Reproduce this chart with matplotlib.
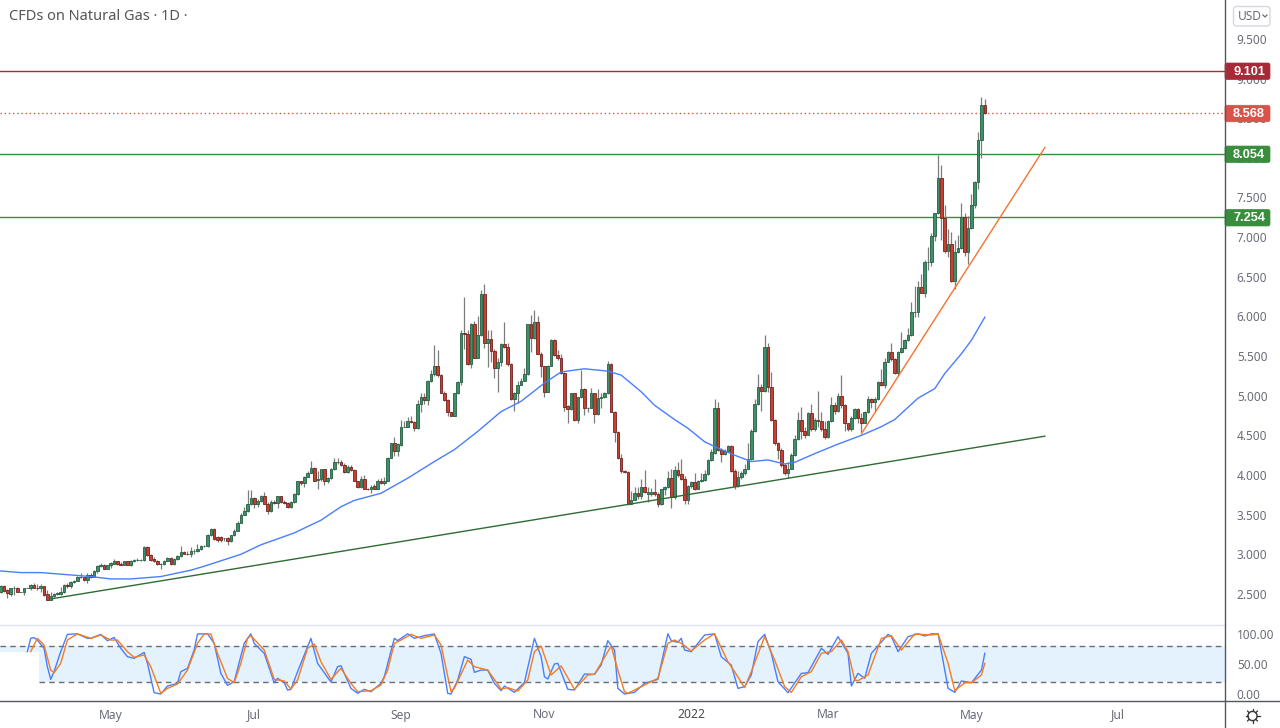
import math
import matplotlib
matplotlib.use("Agg")
import matplotlib.pyplot as plt
from matplotlib.patches import Circle, FancyBboxPatch

# daily candles, oldest first
opens = [
    2.53,2.60,2.55,2.50,2.57,2.58,2.52,2.52,2.58,2.58,
    2.61,2.58,2.57,2.60,2.50,2.43,2.48,2.50,2.50,2.53,
    2.61,2.60,2.65,2.67,2.72,2.71,2.68,2.74,2.71,2.79,
    2.85,2.87,2.82,2.86,2.88,2.91,2.88,2.87,2.91,2.87,
    2.91,2.93,2.93,2.93,3.09,2.99,2.94,2.92,2.88,2.88,
    2.92,2.95,2.88,2.94,2.98,3.03,3.01,3.00,3.04,3.04,
    3.07,3.10,3.10,3.24,3.32,3.22,3.22,3.20,3.20,3.17,
    3.24,3.30,3.40,3.50,3.55,3.63,3.71,3.63,3.67,3.74,
    3.64,3.55,3.66,3.65,3.73,3.66,3.65,3.60,3.66,3.76,
    3.92,3.90,3.98,4.03,4.09,3.94,
    3.95,4.07,3.92,3.96,4.07,4.16,4.16,4.13,4.04,4.10,
    4.06,3.92,3.85,3.95,3.83,3.82,3.86,3.83,3.93,3.90,
    3.93,4.22,4.40,4.30,4.38,4.61,4.61,4.68,4.67,4.59,
    4.90,4.99,4.94,5.18,5.27,5.38,5.26,5.04,4.94,4.79,
    4.75,5.03,5.17,5.79,5.78,5.40,5.91,5.48,5.76,6.28,
    5.67,5.71,5.56,5.35,5.42,5.65,5.61,5.40,4.96,5.04,
    5.14,5.19,5.27,5.90,5.73,5.93,5.53,5.37,5.05,5.38,
    5.70,5.51,5.48,5.29,4.87,4.83,5.03,4.70,4.98,5.09,
    4.84,4.85,5.03,4.77,4.97,4.98,5.03,5.40,4.80,4.54,
    4.21,4.05,4.04,3.64,3.69,3.77,
    3.74,3.85,3.76,3.76,3.79,3.76,3.64,3.82,3.85,3.96,
    3.72,4.06,4.01,3.95,3.69,3.86,3.91,3.83,3.92,3.94,
    4.01,4.19,4.28,4.85,4.32,4.27,4.30,4.37,4.05,3.86,
    3.97,4.02,4.08,4.20,4.55,4.90,5.11,5.06,5.61,5.11,
    4.70,4.40,4.32,4.13,4.03,4.08,4.25,4.45,4.69,4.56,
    4.51,4.78,4.58,4.69,4.68,4.58,4.48,4.68,4.88,4.81,
    5.00,4.88,4.65,4.58,4.72,4.83,4.72,4.66,4.79,4.96,
    4.92,4.96,
    5.17,5.14,5.43,5.55,5.46,5.29,5.55,5.60,5.70,5.76,
    6.06,6.06,6.37,6.30,6.68,6.68,7.02,7.30,7.75,7.24,
    6.82,6.91,6.45,6.81,6.86,7.25,6.81,7.11,7.41,7.69,
    8.22,8.67,
]
highs = [
    2.61,2.61,2.56,2.58,2.60,2.59,2.52,2.58,2.58,2.62,
    2.64,2.62,2.63,2.60,2.55,2.52,2.51,2.52,2.59,2.63,
    2.64,2.67,2.68,2.73,2.76,2.72,2.76,2.76,2.80,2.86,
    2.89,2.88,2.87,2.90,2.94,2.92,2.90,2.92,2.92,2.93,
    2.94,2.95,2.94,3.11,3.10,3.00,2.97,2.93,2.89,2.93,
    2.97,2.97,2.96,2.99,3.10,3.04,3.04,3.09,3.07,3.13,
    3.12,3.12,3.26,3.33,3.33,3.23,3.23,3.21,3.22,3.25,
    3.32,3.42,3.52,3.60,3.81,3.81,3.72,3.70,3.75,3.79,
    3.66,3.68,3.68,3.74,3.74,3.68,3.66,3.67,3.77,3.93,
    3.92,3.99,4.05,4.18,4.10,4.05,
    4.08,4.08,3.97,4.09,4.21,4.21,4.19,4.15,4.13,4.13,
    4.07,3.93,3.99,4.00,3.84,3.88,3.89,3.95,3.96,3.98,
    4.23,4.41,4.48,4.40,4.70,4.68,4.73,4.75,4.68,4.95,
    5.03,5.03,5.20,5.32,5.64,5.58,5.28,5.06,4.96,4.80,
    5.04,5.18,5.83,6.25,5.83,5.92,5.94,6.00,6.33,6.41,
    5.83,5.83,5.59,5.48,5.66,5.93,5.67,5.41,5.05,5.18,
    5.22,5.35,5.91,6.02,6.08,6.00,5.55,5.38,5.39,5.71,
    5.71,5.58,5.53,5.30,4.88,5.04,5.04,4.99,5.32,5.10,
    4.86,5.10,5.04,5.09,5.03,5.05,5.44,5.41,4.81,4.55,
    4.27,4.06,4.05,3.80,3.85,3.85,
    3.95,4.06,3.85,3.84,3.95,3.79,3.83,3.86,4.05,4.08,
    4.11,4.17,4.20,3.99,3.88,3.93,4.03,3.94,4.03,4.06,
    4.20,4.33,4.96,4.92,4.34,4.33,4.38,4.38,4.07,4.05,
    4.05,4.14,4.40,4.58,4.96,5.27,5.15,5.77,5.67,5.30,
    4.71,4.42,4.34,4.15,4.16,4.28,4.50,4.79,4.86,4.60,
    4.80,4.89,4.72,5.06,4.80,4.68,4.70,4.98,4.92,5.04,
    5.26,4.90,4.66,4.74,4.85,4.85,4.78,4.81,5.00,4.97,
    4.98,5.18,
    5.34,5.47,5.57,5.66,5.47,5.56,5.80,5.72,5.85,6.18,
    6.38,6.45,6.53,6.71,6.88,7.05,7.31,8.04,7.91,7.40,
    7.10,7.06,6.96,7.03,7.43,7.30,7.27,7.55,7.71,8.33,
    8.77,8.74,
]
lows = [
    2.51,2.53,2.45,2.48,2.49,2.52,2.52,2.49,2.58,2.55,
    2.57,2.55,2.53,2.47,2.43,2.43,2.46,2.49,2.49,2.51,
    2.58,2.58,2.64,2.66,2.70,2.66,2.64,2.70,2.71,2.77,
    2.84,2.81,2.81,2.83,2.88,2.87,2.86,2.86,2.86,2.85,
    2.90,2.92,2.92,2.92,2.98,2.92,2.90,2.87,2.82,2.87,
    2.91,2.87,2.87,2.93,2.97,3.00,2.99,2.97,3.00,3.03,
    3.06,3.09,3.09,3.23,3.18,3.15,3.16,3.17,3.12,3.16,
    3.23,3.29,3.39,3.49,3.53,3.62,3.59,3.60,3.66,3.63,
    3.51,3.53,3.63,3.59,3.65,3.63,3.59,3.59,3.65,3.75,
    3.88,3.85,3.97,4.02,3.92,3.82,
    3.93,3.88,3.90,3.95,4.06,4.14,4.12,4.03,4.02,4.05,
    3.92,3.84,3.84,3.82,3.81,3.77,3.82,3.82,3.89,3.88,
    3.92,4.21,4.24,4.24,4.37,4.60,4.60,4.66,4.55,4.58,
    4.80,4.90,4.88,5.17,5.25,5.24,5.03,4.93,4.75,4.75,
    4.74,5.02,5.14,5.59,5.39,5.35,5.47,5.48,5.75,5.60,
    5.36,5.42,5.22,5.05,5.38,5.60,5.38,4.95,4.81,4.91,
    5.13,5.18,5.26,5.55,5.72,5.52,5.24,4.99,5.05,5.37,
    5.50,5.45,5.27,4.81,4.65,4.82,4.68,4.66,4.97,4.76,
    4.80,4.84,4.65,4.76,4.84,4.97,5.02,4.79,4.42,4.20,
    4.03,4.02,3.62,3.63,3.68,3.70,
    3.70,3.77,3.66,3.74,3.74,3.60,3.62,3.75,3.84,3.59,
    3.70,3.98,3.94,3.63,3.63,3.84,3.81,3.82,3.91,3.93,
    4.00,4.18,4.27,4.30,4.16,4.25,4.29,4.04,3.82,3.85,
    3.95,4.00,4.07,4.19,4.54,4.88,4.81,5.05,5.05,4.68,
    4.38,4.20,4.10,4.00,3.96,4.07,4.24,4.44,4.45,4.47,
    4.50,4.55,4.55,4.60,4.56,4.46,4.47,4.67,4.77,4.80,
    4.85,4.55,4.55,4.55,4.71,4.65,4.54,4.65,4.78,4.85,
    4.81,4.95,
    5.12,5.10,5.42,5.44,5.28,5.25,5.54,5.59,5.69,5.75,
    5.99,5.99,6.29,6.24,6.59,6.63,6.95,7.29,6.96,6.80,
    6.75,6.44,6.35,6.80,6.85,6.76,6.66,7.10,7.37,7.61,
    8.00,8.55,
]
closes = [
    2.60,2.54,2.51,2.57,2.58,2.52,2.52,2.58,2.58,2.61,
    2.58,2.57,2.60,2.49,2.43,2.48,2.50,2.51,2.53,2.61,
    2.60,2.65,2.67,2.72,2.71,2.68,2.74,2.71,2.79,2.85,
    2.87,2.82,2.86,2.89,2.91,2.88,2.87,2.91,2.87,2.91,
    2.93,2.93,2.93,3.09,2.99,2.93,2.92,2.88,2.88,2.92,
    2.95,2.88,2.94,2.98,3.03,3.01,3.00,3.04,3.04,3.07,
    3.11,3.11,3.24,3.32,3.19,3.18,3.18,3.20,3.17,3.24,
    3.30,3.40,3.50,3.55,3.63,3.71,3.63,3.67,3.74,3.64,
    3.55,3.66,3.65,3.73,3.66,3.65,3.60,3.66,3.76,3.92,
    3.90,3.98,4.03,4.09,3.93,3.95,
    4.07,3.92,3.96,4.07,4.16,4.16,4.13,4.04,4.10,4.06,
    3.92,3.85,3.95,3.83,3.82,3.85,3.83,3.93,3.90,3.93,
    4.22,4.40,4.30,4.39,4.61,4.61,4.68,4.67,4.59,4.90,
    4.99,4.94,5.18,5.27,5.38,5.26,5.04,4.94,4.79,4.75,
    5.03,5.17,5.79,5.78,5.40,5.91,5.48,5.77,6.28,5.67,
    5.71,5.56,5.35,5.42,5.65,5.61,5.40,4.96,5.04,5.14,
    5.19,5.27,5.90,5.73,5.93,5.53,5.37,5.05,5.38,5.70,
    5.51,5.48,5.29,4.86,4.83,5.03,4.70,4.98,5.09,4.84,
    4.85,5.03,4.77,4.97,4.98,5.03,5.40,4.80,4.54,4.21,
    4.05,4.04,3.64,3.69,3.77,3.74,
    3.85,3.79,3.79,3.79,3.76,3.64,3.82,3.85,3.96,3.72,
    4.06,4.00,3.95,3.69,3.86,3.91,3.83,3.92,3.94,4.01,
    4.19,4.29,4.85,4.32,4.27,4.30,4.37,4.05,3.86,3.97,
    4.02,4.08,4.20,4.55,4.90,5.11,5.06,5.61,5.11,4.70,
    4.40,4.32,4.13,4.03,4.08,4.25,4.45,4.69,4.56,4.51,
    4.78,4.58,4.69,4.68,4.58,4.48,4.68,4.88,4.81,5.00,
    4.88,4.65,4.58,4.72,4.83,4.72,4.66,4.79,4.96,4.92,
    4.96,5.17,
    5.14,5.43,5.55,5.46,5.29,5.55,5.60,5.70,5.76,6.06,
    6.06,6.37,6.30,6.68,6.68,7.02,7.30,7.75,7.24,6.82,
    6.91,6.45,6.81,6.86,7.25,6.81,7.11,7.41,7.69,8.22,
    8.67,8.568,
]

# moving average, sampled at the bends of the line
ma_bars = [0,6,12,21,27,33,39,48,57,61,72,78,88,96,102,106,114,122,130,136,143,150,156,163,168,
           175,182,186,192,196,202,206,211,215,220,225,230,235,238,244,251,258,264,268,275,280,
           283,288,291,295]
ma_vals = [2.79,2.77,2.77,2.74,2.72,2.69,2.69,2.72,2.80,2.85,3.00,3.12,3.27,3.43,3.60,3.68,3.77,
           3.96,4.17,4.32,4.55,4.80,4.93,5.16,5.30,5.34,5.31,5.26,5.05,4.88,4.70,4.59,4.42,4.34,
           4.25,4.17,4.19,4.14,4.16,4.27,4.39,4.50,4.61,4.70,4.97,5.09,5.28,5.53,5.70,5.99]

# stochastic %K / %D
k_bars = [8,9,10,11,13,14,15,16,18,20,23,26,27,30,32,34,36,38,40,43,44,46,48,50,53,54,56,58,59,62,
          64,66,68,70,73,75,76,79,82,83,85,86,87,89,93,95,99,101,102,105,107,109,111,114,115,118,
          119,122,124,127,130,132,134,135,137,139,141,142,144,146,148,150,151,154,157,160,162,163,
          164,166,167,170,172,175,178,180,182,184,185,187,190,193,197,200,201,203,204,205,207,209,
          211,214,216,219,221,223,225,227,229,231,233,236,240,242,246,248,251,254,255,257,259,261,
          266,267,269,272,275,277,279,281,284,286,288,291,294,295]
k_vals = [70.5,92.5,93.6,89.7,76,45.7,24.7,37.4,70.5,99,100,92.5,92.5,99,88.6,94,76,62.2,59.4,69.3,
          51.2,2.7,0.5,13.7,18.1,37.4,42.9,73.2,99.7,100,84.2,34.6,14.8,20.9,84.2,100,84.2,67.7,
          19.2,26.4,19.2,7,8.2,37.4,92.5,51.2,20.3,45.7,47.3,9.8,1.6,8.2,4.3,18.1,29.1,92.5,88.6,
          100,92.5,96.9,99.7,67.7,1.6,0.5,23.6,62.2,57.8,36.3,40.1,40.1,18.1,6,13.7,3.2,19.8,92.5,
          62.2,29.1,25.3,50.1,51.2,8.2,7.1,33.5,33,48.4,88.6,73.2,9.8,0.5,3.2,18.1,24.7,100,88.6,
          85.9,92.5,73.2,70.5,84.2,98,100,62.2,48.4,9.8,12.6,31.9,87,99.1,67.7,20.9,2.7,34.6,35.7,
          76,66,95.3,67.7,13.7,34.6,26.4,67.7,99.1,95.3,70.5,95.3,100,96.4,100,100,9.8,3.2,22,
          19.2,40.1,67.7]
d_bars = [9,11,13,15,16,18,20,23,27,30,33,35,38,40,43,45,48,50,53,56,59,61,63,65,68,70,72,74,75,79,
          82,85,87,89,92,94,96,99,102,105,107,111,114,116,118,120,123,126,130,132,135,136,140,142,
          146,150,152,155,158,160,162,165,168,172,176,178,183,185,187,188,193,197,200,202,204,207,
          211,214,218,220,223,225,229,232,235,237,240,243,246,249,252,254,256,257,260,264,267,270,
          274,279,281,284,286,289,291,294,295]
d_vals = [70.5,92.5,81.5,40.1,35.7,51.2,89.7,100,92.5,98,89.7,89.7,70.5,61.1,65,45.7,1.6,9.8,17,
          40.1,84.2,99.7,99.7,67.7,26.4,19.2,51.2,92.5,96.9,73.2,24.7,22,8.7,23.6,76,83.1,53.9,
          24.7,42.9,18.1,4.3,6,15.4,40.1,84.2,89.7,99.1,92.5,98,81.5,4.3,9.8,56.7,45.7,40.1,8.7,
          11,5.4,23.6,70.5,79.8,31.9,46.8,8.2,31.9,33,79.8,40.1,4.3,1.6,15.4,26.4,84.2,89.7,84.2,
          71.6,89.7,100,53.9,37.4,11,37.4,95.3,56.7,12.6,3.2,29.1,37.4,67.7,70.5,89.7,70.5,23.6,
          22.5,31.9,92.5,96.9,73.2,99.7,98,99.7,51.2,6,19.2,19.2,31.9,51.2]

# drawn trend lines: bar, price
green_trend_bars = [15.3, 313]
green_trend_vals = [2.44, 4.49]
orange_trend_bars = [258, 313]
orange_trend_vals = [4.52, 8.13]

# horizontal levels
level_vals = [9.101, 8.054, 7.254]
level_cols = ["#a82a37", "#388e3c", "#388e3c"]
last_price = 8.568

price_ticks = [2.5, 3.0, 3.5, 4.0, 4.5, 5.0, 5.5, 6.0, 6.5, 7.0, 7.5, 8.0, 8.5, 9.0, 9.5]
stoch_ticks = [0, 50, 100]
month_bars = [33, 76, 120, 163, 207, 248, 291, 335]
month_labels = ["May", "Jul", "Sep", "Nov", "2022", "Mar", "May", "Jul"]

assert len(opens) == len(highs) == len(lows) == len(closes)
assert len(ma_bars) == len(ma_vals) and len(k_bars) == len(k_vals) and len(d_bars) == len(d_vals)

W, H = 1280, 728
AXIS_X = 1225
PANE_BOTTOM = 701
SPLIT_Y = 625
BAND_START = 39 / AXIS_X
GREY = "#6a6d78"

plt.rcParams["font.family"] = ["Noto Sans", "DejaVu Sans"]

fig = plt.figure(figsize=(W / 100, H / 100), dpi=100, facecolor="white")


def pane(top, bottom):
    return fig.add_axes([0, 1 - bottom / H, AXIS_X / W, (bottom - top) / H])


ax = pane(0, SPLIT_Y)
ax2 = pane(SPLIT_Y + 1, PANE_BOTTOM)
for a in (ax, ax2):
    for s in a.spines.values():
        s.set_visible(False)
    a.set_xlim(-0.2, 367)
    a.yaxis.tick_right()
    a.set_xticks([])
    a.tick_params(axis="y", length=0, pad=8.5, labelsize=8.5, labelcolor=GREY)

ax.set_ylim(2.109, 9.99)
ax.set_yticks(price_ticks)
ax.set_yticklabels([f"{t:.3f}" for t in price_ticks])

# candles
up_face, up_edge = "#3f8f6a", "#235f40"
dn_face, dn_edge = "#c8402f", "#73221e"
bars = list(range(len(closes)))
ax.vlines(bars, lows, highs, color="#7c7c7c", lw=0.9, zorder=3)
for i in bars:
    up = closes[i] >= opens[i]
    ax.bar(i, abs(closes[i] - opens[i]), bottom=min(opens[i], closes[i]), width=0.78,
           facecolor=up_face if up else dn_face, edgecolor=up_edge if up else dn_edge,
           lw=0.6, zorder=4)

ax.plot(ma_bars, ma_vals, color="#4a7dff", lw=1, zorder=5)
ax.plot(green_trend_bars, green_trend_vals, color="#2e6b35", lw=1, zorder=5)
ax.plot(orange_trend_bars, orange_trend_vals, color="#f57330", lw=1, zorder=5)

for v, c in zip(level_vals, level_cols):
    ax.axhline(v, color=c, lw=1, zorder=2)
ax.axhline(last_price, color="#d9534a", lw=1, ls=(0, (1, 2)), zorder=2)

# stochastic pane
ax2.set_ylim(-11.07, 112.9)
ax2.set_yticks(stoch_ticks)
ax2.set_yticklabels([f"{t:.2f}" for t in stoch_ticks])
ax2.axhspan(20, 80, xmin=BAND_START, color="#e3f2fd", lw=0, zorder=1)
ax2.axhspan(70, 80, xmax=BAND_START, color="#e3f2fd", lw=0, zorder=1)
ax2.axhline(80, color=GREY, lw=1, ls=(0, (4, 3)), zorder=2)
ax2.axhline(20, xmin=BAND_START, color=GREY, lw=1, ls=(0, (4, 3)), zorder=2)
ax2.plot(k_bars, k_vals, color="#4a7dff", lw=1, solid_joinstyle="round", zorder=3)
ax2.plot(d_bars, d_vals, color="#f57c1f", lw=1, solid_joinstyle="round", zorder=4)

# everything outside the panes goes on a pixel overlay
ui = fig.add_axes([0, 0, 1, 1], zorder=20)
ui.set_xlim(0, W)
ui.set_ylim(H, 0)
ui.axis("off")
ui.patch.set_alpha(0)
ui.plot([0, W], [PANE_BOTTOM, PANE_BOTTOM], color="#55575f", lw=1)
ui.plot([0, AXIS_X], [SPLIT_Y, SPLIT_Y], color="#e0e3eb", lw=1)
ui.plot([AXIS_X, AXIS_X], [0, H], color="#55575f", lw=1)

ui.text(9, 17, "CFDs on Natural Gas · 1D ·", fontsize=10.5, color="#555555", va="center")

for b, lab in zip(month_bars, month_labels):
    x = ax.transData.transform((b, 0))[0]
    bold = lab == "2022"
    ui.text(x, 715, lab, ha="center", va="center", fontsize=8.7,
            color="#4a4a4a" if bold else GREY, fontweight="bold" if bold else "normal")


def price_label(v, col):
    y = H - ax.transData.transform((0, v))[1]
    ui.add_patch(FancyBboxPatch((AXIS_X, y - 7.5), 45, 16.5, boxstyle="round,pad=0,rounding_size=2",
                                fc=col, ec=col, lw=0.5))
    ui.text(AXIS_X + 24, y + 1, f"{v:.3f}", ha="center", va="center", color="white",
            fontsize=9.2, fontweight="bold", family="Liberation Sans")


for v, c in zip(level_vals, level_cols):
    price_label(v, c)
price_label(last_price, "#d9534a")

# currency button and settings icon
ui.add_patch(FancyBboxPatch((1233.5, 6.5), 36.5, 19.5, boxstyle="round,pad=0,rounding_size=3",
                            fc="white", ec="#d6d8e0", lw=1))
ui.text(1238, 16, "USD", va="center", fontsize=8.6, color=GREY)
ui.plot([1263, 1265, 1267], [15, 17, 15], color=GREY, lw=0.9)
ui.add_patch(Circle((1252.5, 716), 4.6, fc="white", ec="#333333", lw=1))
for n in range(8):
    ang = n * math.pi / 4
    ui.plot([1252.5 + 4.6 * math.cos(ang), 1252.5 + 7 * math.cos(ang)],
            [716 + 4.6 * math.sin(ang), 716 + 7 * math.sin(ang)], color="#333333", lw=0.9)

fig.savefig("out.png", dpi=100)
